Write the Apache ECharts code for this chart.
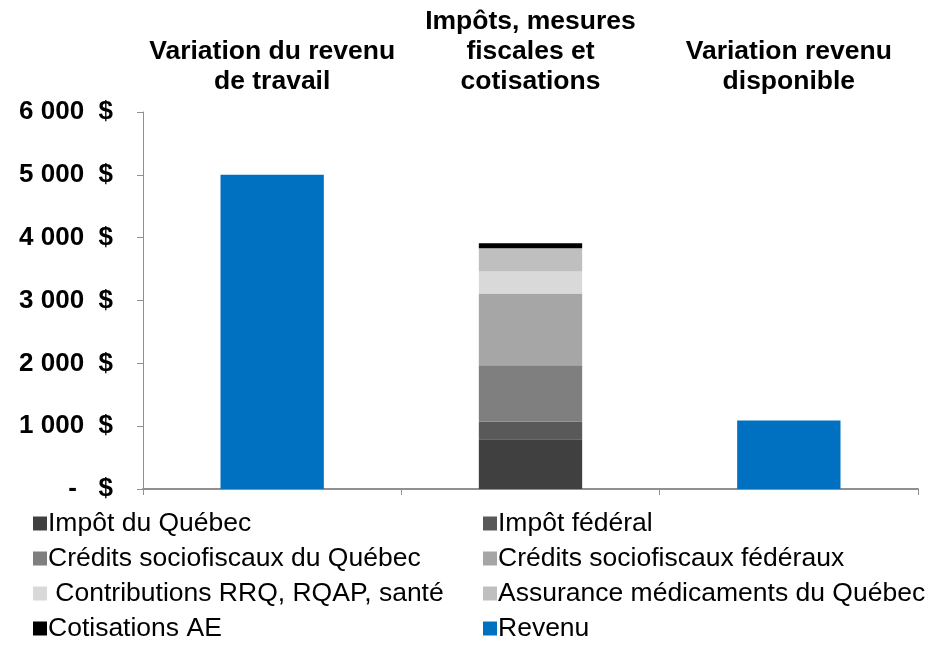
<!DOCTYPE html>
<html><head><meta charset="utf-8">
<script src="https://cdn.jsdelivr.net/npm/echarts@6/dist/echarts.min.js"></script>
<style>html,body{margin:0;padding:0;background:#fff}#c{width:932px;height:649px}</style>
</head><body><div id="c"></div>
<script>
const categories = ['Variation du revenu\nde travail', 'Impôts, mesures\nfiscales et\ncotisations', 'Variation revenu\ndisponible'];
const impotQuebec = [null, 790, null];
const impotFederal = [null, 280, null];
const creditsQuebec = [null, 900, null];
const creditsFederaux = [null, 1140, null];
const contributions = [null, 350, null];
const assuranceMed = [null, 370, null];
const cotisationsAE = [null, 80, null];
const revenu = [5000, null, 1090];
const yTicks = [0, 1000, 2000, 3000, 4000, 5000, 6000];

const names = ['Impôt du Québec', 'Impôt fédéral', 'Crédits sociofiscaux du Québec', 'Crédits sociofiscaux fédéraux', ' Contributions RRQ, RQAP, santé', 'Assurance médicaments du Québec', 'Cotisations AE', 'Revenu'];
const datas = [impotQuebec, impotFederal, creditsQuebec, creditsFederaux, contributions, assuranceMed, cotisationsAE, revenu];
const colors = ['#404040', '#595959', '#7f7f7f', '#a6a6a6', '#d9d9d9', '#bfbfbf', '#000000', '#0070c0'];

const FONT = 'Liberation Sans, Arial, sans-serif';
const chart = echarts.init(document.getElementById('c'));
const legendCommon = {
  orient: 'vertical', itemWidth: 14, itemHeight: 14, itemGap: 9, icon: 'rect', padding: 0,
  textStyle: { fontFamily: FONT, fontSize: 26.5, color: '#000', padding: [0, 0, 0, -4], lineHeight: 26 },
  selectedMode: false
};
chart.setOption({
  animation: false,
  grid: { left: 143, right: 14, top: 112, bottom: 160, containLabel: false },
  xAxis: [
    { type: 'category', data: categories, position: 'bottom',
      axisLine: { lineStyle: { color: '#909090', width: 2 } },
      axisTick: { show: true, length: 6, lineStyle: { color: '#909090', width: 1 } },
      axisLabel: { show: false } },
    { type: 'category', data: categories, position: 'top',
      axisLine: { show: false }, axisTick: { show: false },
      axisLabel: { show: true, margin: 15, fontFamily: FONT, fontSize: 26.5, fontWeight: 'bold', color: '#000', lineHeight: 30, interval: 0 } }
  ],
  yAxis: {
    type: 'value', min: yTicks[0], max: yTicks[yTicks.length - 1], interval: 1000,
    axisLine: { show: true, lineStyle: { color: '#909090', width: 1 } },
    axisTick: { show: true, length: 6, lineStyle: { color: '#909090' } },
    splitLine: { show: false },
    axisLabel: {
      margin: 30, fontFamily: FONT, fontSize: 26, fontWeight: 'bold', color: '#000',
      formatter: v => v === 0 ? '-   $' : (v / 1000) + ' 000  $'
    }
  },
  legend: [
    Object.assign({ left: 33, top: 510, height: 139, itemGap: 8, data: [names[0], names[2], names[4], names[6]] }, legendCommon, { itemGap: 8 }),
    Object.assign({ left: 483, top: 510, height: 139, data: [names[1], names[3], names[5], names[7]] }, legendCommon, { itemGap: 8 })
  ],
  series: names.map((n, i) => ({
    name: n, type: 'bar', stack: 'total', data: datas[i], barWidth: '40%',
    itemStyle: { color: colors[i] }, xAxisIndex: 0
  }))
});
</script></body></html>
